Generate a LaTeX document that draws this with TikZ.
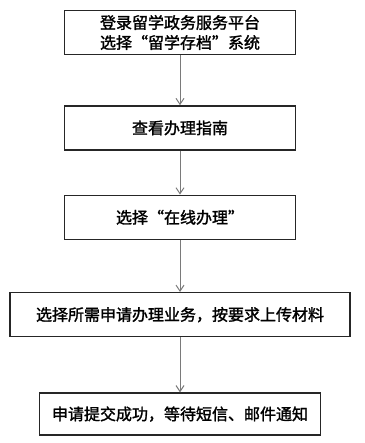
\documentclass[tikz,border=0pt]{standalone}
\usepackage{fontspec}
\usetikzlibrary{positioning,arrows.meta}
\newfontfamily\cjk[FakeBold=1.6]{Noto Sans CJK SC}
\definecolor{flowline}{HTML}{7A7A7A}

\begin{document}
\begin{tikzpicture}[x=1pt,y=1pt,
    stepbox/.style={draw=black!85, line width=1.4pt, minimum height=44pt,
      inner sep=0pt, align=center, font=\cjk\fontsize{16}{20}\selectfont},
    flow/.style={draw=flowline, line width=0.9pt,
      -{Straight Barb[length=6pt,width=8pt,line width=1pt]}}]
  \useasboundingbox (0,0) rectangle (364,-443);

  % ---------- boxes ----------
  \node[stepbox, minimum width=231pt] (login) at (180,-32.5)
    {登录留学政务服务平台\\选择“留学存档”系统};
  \node[stepbox, minimum width=231pt, below=50pt of login] (guide) {查看办理指南};
  \node[stepbox, minimum width=231pt, below=44pt of guide] (online) {选择“在线办理”};
  \node[stepbox, minimum width=340pt, below=52pt of online] (upload)
    {选择所需申请办理业务，按要求上传材料};
  \node[stepbox, minimum width=281pt, minimum height=42pt, below=55pt of upload] (notify)
    {申请提交成功，等待短信、邮件通知};

  % ---------- arrows ----------
  \draw[flow] (login) -- (guide);
  \draw[flow] (guide) -- (online);
  \draw[flow] (online) -- (upload);
  \draw[flow] (upload) -- (notify);
\end{tikzpicture}
\end{document}
